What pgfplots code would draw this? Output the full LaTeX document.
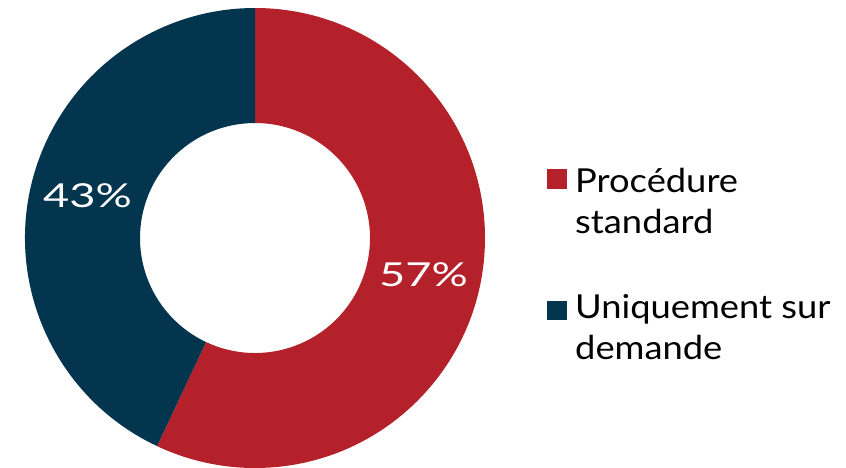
\documentclass[border=0pt]{standalone}
\usepackage{pgfplots}
\usepackage{pgfplotstable}
\pgfplotsset{compat=1.18}
\usepackage{fontspec}
\setmainfont{Lato}[FakeStretch=1.1]
\newfontfamily\pctfont{Lato}[FakeStretch=1.37]
\definecolor{cred}{RGB}{181,33,42}
\definecolor{cnavy}{RGB}{4,53,79}
\pgfplotstableread{
label share
Procedure 57
Uniquement 43
}\shares
\begin{document}
\begin{tikzpicture}
\useasboundingbox (0,0) rectangle (846pt,467pt);
\pgfplotstablegetelem{0}{share}\of\shares \edef\va{\pgfplotsretval}
\pgfplotstablegetelem{1}{share}\of\shares \edef\vb{\pgfplotsretval}
\pgfmathsetmacro{\ea}{90-3.6*\va}
\pgfmathsetmacro{\eb}{\ea-3.6*\vb}
\begin{axis}[x=1pt,y=1pt,xmin=0,xmax=846,ymin=0,ymax=467,hide axis,scale only axis,clip=true,anchor=south west,at={(0,0)}]
\begin{scope}[shift={(axis cs:255,229)}]
\fill[cred] (90:230pt) arc[start angle=90,end angle=\ea,radius=230pt] -- (\ea:115pt) arc[start angle=\ea,end angle=90,radius=115pt] -- cycle;
\fill[cnavy] (\ea:230pt) arc[start angle=\ea,end angle=\eb,radius=230pt] -- (\eb:115pt) arc[start angle=\eb,end angle=\ea,radius=115pt] -- cycle;
\end{scope}
\node[anchor=base,text=white,font=\pctfont\fontsize{33}{33}\selectfont,inner sep=0pt] at (axis cs:423.5,181) {\va\%};
\node[anchor=base,text=white,font=\pctfont\fontsize{33}{33}\selectfont,inner sep=0pt] at (axis cs:87.5,260) {\vb\%};
\fill[cred] (axis cs:547,278) rectangle (axis cs:567,298);
\fill[cnavy] (axis cs:547,147) rectangle (axis cs:567,166);
\node[anchor=base west,font=\fontsize{33}{33}\selectfont,inner sep=0pt] at (axis cs:575,275) {Procédure};
\node[anchor=base west,font=\fontsize{33}{33}\selectfont,inner sep=0pt] at (axis cs:575,234) {standard};
\node[anchor=base west,font=\fontsize{33}{33}\selectfont,inner sep=0pt] at (axis cs:575,149) {Uniquement sur};
\node[anchor=base west,font=\fontsize{33}{33}\selectfont,inner sep=0pt] at (axis cs:575,108) {demande};
\end{axis}
\end{tikzpicture}
\end{document}
